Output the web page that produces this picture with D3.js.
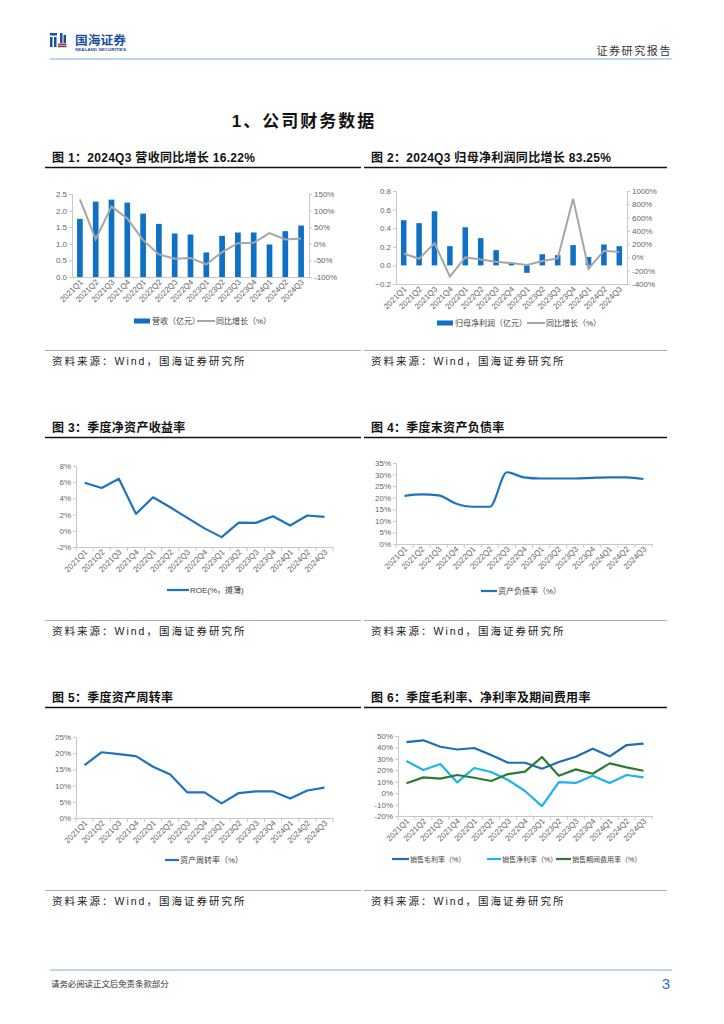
<!DOCTYPE html>
<html><head><meta charset="utf-8">
<script src="https://cdn.jsdelivr.net/npm/d3@7/dist/d3.min.js"></script>
<style>
html,body{margin:0;padding:0;background:#fff;}
svg{display:block;}
text{font-family:"Liberation Sans","Noto Sans CJK SC",sans-serif;}
</style></head>
<body>
<svg id="page" width="724" height="1024"></svg>
<script>
// ---------- DATA ----------
const quarters = ["2021Q1","2021Q2","2021Q3","2021Q4","2022Q1","2022Q2","2022Q3","2022Q4","2023Q1","2023Q2","2023Q3","2023Q4","2024Q1","2024Q2","2024Q3"];
const revenue = [1.75,2.27,2.33,2.24,1.91,1.60,1.31,1.28,0.74,1.24,1.34,1.34,0.98,1.38,1.55];
const revenueYoY = [134,14,112,76,11,-32,-45,-43,-62,-25,2,3,32,13,16.22];
const netProfit = [0.486,0.454,0.582,0.207,0.41,0.293,0.164,0.03,-0.08,0.12,0.11,0.218,0.09,0.225,0.207];
const netProfitYoY = [60,-20,215,-290,0,-30,-65,-85,-115,-55,-15,885,-170,100,83.25];
const roe = [5.94,5.29,6.43,2.09,4.14,2.9,1.6,0.3,-0.78,1.02,0.98,1.8,0.66,1.89,1.72];
const debtRatio = [20.8,21.4,21.0,17.5,16.1,16.1,31.0,28.8,28.3,28.3,28.3,28.6,28.8,28.8,28.1];
const assetTurnover = [16.3,20.3,19.7,19.1,15.8,13.4,7.9,7.9,4.5,7.7,8.2,8.2,6.0,8.5,9.4];
const grossMargin = [44.6,46.2,40.6,38.2,39.5,33.3,26.6,26.6,21.4,27.2,31.9,38.9,32.2,42.1,43.3];
const netMargin = [28.1,20.2,25.5,9.4,22,18.5,11.5,1.9,-11.3,9.7,8.9,15.3,8.9,15.9,13.8];
const expenseRatio = [8.6,13.8,12.7,15.9,13.5,10.6,16.7,18.8,31.6,15.3,20.8,17,26,22.6,19.6];

const ticksRevenue = [0,0.5,1.0,1.5,2.0,2.5];
const ticksRevenueYoY = [-100,-50,0,50,100,150];
const ticksProfit = [-0.2,0,0.2,0.4,0.6,0.8];
const ticksProfitYoY = [-400,-200,0,200,400,600,800,1000];
const ticksRoe = [-2,0,2,4,6,8];
const ticksDebt = [0,5,10,15,20,25,30,35];
const ticksTurnover = [0,5,10,15,20,25];
const ticksMargin = [-20,-10,0,10,20,30,40,50];

const figTitles = ["图 1：2024Q3 营收同比增长 16.22%","图 2：2024Q3 归母净利润同比增长 83.25%","图 3：季度净资产收益率","图 4：季度末资产负债率","图 5：季度资产周转率","图 6：季度毛利率、净利率及期间费用率"];
const sourceText = "资料来源：Wind，国海证券研究所";

// ---------- STYLE ----------
const BLUE = "#0E71C6", GRAY = "#A6A6A6", LINEBLUE = "#1D73BE";
const C_GROSS = "#1F6CB3", C_NET = "#1DB3EC", C_EXP = "#2F7A33";
const AXIS = "#C8C8C8", TICKTXT = "#666666";

const svg = d3.select("#page");

// ---------- HEADER ----------
const logo = svg.append("g");
logo.append("rect").attr("x",50).attr("y",33).attr("width",7).attr("height",2.5).attr("fill","#1D4FA0");
logo.append("rect").attr("x",50).attr("y",37).attr("width",2.5).attr("height",10).attr("fill","#1D4FA0");
logo.append("rect").attr("x",54).attr("y",37).attr("width",2.5).attr("height",10).attr("fill","#1D4FA0");
logo.append("rect").attr("x",60).attr("y",33).attr("width",2.5).attr("height",10).attr("fill","#1D4FA0");
logo.append("rect").attr("x",63.5).attr("y",35).attr("width",2.5).attr("height",8).attr("fill","#1D4FA0");
logo.append("rect").attr("x",58).attr("y",43.5).attr("width",8.5).attr("height",2).attr("fill","#D7262B");
logo.append("rect").attr("x",58).attr("y",46).attr("width",8.5).attr("height",1.2).attr("fill","#1D4FA0");
logo.append("text").attr("x",75).attr("y",45).attr("font-size",12).attr("font-weight","bold")
  .attr("fill","#1D4FA0").attr("textLength",51).attr("lengthAdjust","spacingAndGlyphs")
  .style("font-family","'Noto Sans CJK SC'").text("国海证券");
logo.append("text").attr("x",75).attr("y",50.5).attr("font-size",4).attr("font-weight","bold")
  .attr("fill","#1D4FA0").attr("textLength",51).attr("lengthAdjust","spacingAndGlyphs").text("SEALAND SECURITIES");

svg.append("text").attr("x",672).attr("y",55).attr("text-anchor","end").attr("font-size",11)
  .attr("letter-spacing",1.6).attr("fill","#333").style("font-family","'Noto Sans CJK SC'").text("证券研究报告");
svg.append("line").attr("x1",50).attr("x2",672).attr("y1",59).attr("y2",59).attr("stroke","#A9C8EC").attr("stroke-width",1.5);

svg.append("text").attr("x",304).attr("y",127).attr("text-anchor","middle").attr("font-size",17)
  .attr("font-weight","bold").attr("letter-spacing",2).attr("fill","#111").text("1、公司财务数据");

// footer
svg.append("line").attr("x1",50).attr("x2",672).attr("y1",970).attr("y2",970).attr("stroke","#A9C8EC").attr("stroke-width",1.5);
svg.append("text").attr("x",51).attr("y",987).attr("font-size",8.5).attr("letter-spacing",-0.1).attr("fill","#333")
  .style("font-family","'Noto Sans CJK SC'").text("请务必阅读正文后免责条款部分");
svg.append("text").attr("x",670).attr("y",989).attr("text-anchor","end").attr("font-size",15).attr("fill","#2C6FD1").text("3");

// ---------- PANELS ----------
function panelFrame(side,row,title){
  const x0 = side===0 ? 45 : 364, x1 = side===0 ? 361 : 667;
  const off = row*270;
  svg.append("text").attr("x", side===0?52:371).attr("y",162+off).attr("font-size",12).attr("font-weight","bold")
    .attr("letter-spacing",0.3).attr("fill","#111").text(title);
  svg.append("line").attr("x1",x0).attr("x2",x1).attr("y1",167.5+off).attr("y2",167.5+off).attr("stroke","#111").attr("stroke-width",1.3);
  svg.append("line").attr("x1",x0).attr("x2",x1).attr("y1",350.5+off).attr("y2",350.5+off).attr("stroke","#777").attr("stroke-width",0.6);
  svg.append("text").attr("x", side===0?52:371).attr("y",365+off).attr("font-size",10.5).attr("letter-spacing",2)
    .attr("fill","#222").text(sourceText);
}

function xAxisRotated(g, x, y, boundaryTicks){
  const ax = g.append("g").attr("transform",`translate(0,${y})`)
    .call(d3.axisBottom(x).tickSize(0).tickPadding(4));
  ax.select(".domain").attr("stroke",AXIS);
  ax.selectAll("text").attr("font-size",8).attr("fill",TICKTXT)
    .attr("text-anchor","end").attr("dx","-0.2em").attr("dy","0.3em")
    .attr("transform","rotate(-45)");
  if(boundaryTicks){
    const edges = quarters.map(q=>x(q)).concat([x(quarters[quarters.length-1])+x.step()]);
    g.append("g").selectAll("line").data(edges).join("line")
      .attr("x1",d=>d).attr("x2",d=>d).attr("y1",y).attr("y2",y+4).attr("stroke",AXIS);
  }
}
function yAxisLeft(g, y, x0, ticks, fmt){
  const ax = g.append("g").attr("transform",`translate(${x0},0)`)
    .call(d3.axisLeft(y).tickValues(ticks).tickFormat(fmt).tickSize(3).tickPadding(2));
  ax.select(".domain").attr("stroke",AXIS);
  ax.selectAll(".tick line").attr("stroke",AXIS);
  ax.selectAll("text").attr("font-size",8).attr("fill",TICKTXT);
}
function yAxisRight(g, y, x0, ticks, fmt){
  const ax = g.append("g").attr("transform",`translate(${x0},0)`)
    .call(d3.axisRight(y).tickValues(ticks).tickFormat(fmt).tickSize(3).tickPadding(2));
  ax.select(".domain").attr("stroke",AXIS);
  ax.selectAll(".tick line").attr("stroke",AXIS);
  ax.selectAll("text").attr("font-size",8).attr("fill",TICKTXT);
}
function legendLine(g, x, y, w, color, label, sw, fs){
  g.append("line").attr("x1",x).attr("x2",x+w).attr("y1",y).attr("y2",y).attr("stroke",color).attr("stroke-width",sw||2.2);
  g.append("text").attr("x",x+w+1).attr("y",y+3).attr("font-size",fs||8).attr("fill","#404040").text(label);
}
function legendRect(g, x, y, w, color, label){
  g.append("rect").attr("x",x).attr("y",y-2.5).attr("width",w).attr("height",5).attr("fill",color);
  g.append("text").attr("x",x+w+2).attr("y",y+3).attr("font-size",8).attr("fill","#404040").text(label);
}

// Bar + line combo chart
function comboChart(opt){
  const g = svg.append("g");
  const x = d3.scaleBand().domain(quarters).range([opt.left,opt.right]).paddingInner(0.64).paddingOuter(0.32);
  const xb = d3.scaleBand().domain(quarters).range([opt.left,opt.right]);
  const yL = d3.scaleLinear().domain(opt.leftDomain).range([opt.bottom,opt.top]);
  const yR = d3.scaleLinear().domain(opt.rightDomain).range([opt.bottom,opt.top]);
  yAxisLeft(g,yL,opt.left,opt.leftTicks,opt.leftFmt);
  yAxisRight(g,yR,opt.right,opt.rightTicks,opt.rightFmt);
  g.append("g").selectAll("rect").data(opt.bars).join("rect")
    .attr("x",(d,i)=>x(quarters[i])).attr("width",x.bandwidth())
    .attr("y",d=>yL(Math.max(0,d))).attr("height",d=>Math.abs(yL(d)-yL(0)))
    .attr("fill",BLUE);
  xAxisRotated(g, xb, opt.bottom, false);
  const line = d3.line().x((d,i)=>xb(quarters[i])+xb.bandwidth()/2).y(d=>yR(d));
  g.append("path").datum(opt.line).attr("d",line).attr("fill","none").attr("stroke",GRAY).attr("stroke-width",2);
  legendRect(g,opt.legX1,opt.legY,16,BLUE,opt.barLabel);
  legendLine(g,opt.legX2,opt.legY,18,GRAY,opt.lineLabel,2);
}

function lineChart(opt){
  const g = svg.append("g");
  const x = d3.scaleBand().domain(quarters).range([opt.left,opt.right]);
  const y = d3.scaleLinear().domain(opt.domain).range([opt.bottom,opt.top]);
  yAxisLeft(g,y,opt.left,opt.ticks,d=>d+"%");
  xAxisRotated(g,x,opt.bottom,true);
  opt.series.forEach(s=>{
    const line = d3.line().x((d,i)=>x(quarters[i])+x.bandwidth()/2).y(d=>y(d)).curve(opt.curve||d3.curveLinear);
    g.append("path").datum(s.values).attr("d",line).attr("fill","none").attr("stroke",s.color).attr("stroke-width",2.2)
      .attr("stroke-linejoin","round");
    legendLine(g,s.legX,opt.legY,s.legW||18,s.color,s.label,2.2,opt.legFont);
  });
}

panelFrame(0,0,figTitles[0]);
panelFrame(1,0,figTitles[1]);
panelFrame(0,1,figTitles[2]);
panelFrame(1,1,figTitles[3]);
panelFrame(0,2,figTitles[4]);
panelFrame(1,2,figTitles[5]);

comboChart({left:72,right:309,top:194,bottom:277,leftDomain:[0,2.5],rightDomain:[-100,150],
  leftTicks:ticksRevenue,rightTicks:ticksRevenueYoY,leftFmt:d3.format(".1f"),rightFmt:d=>d+"%",
  bars:revenue,line:revenueYoY,barLabel:"营收（亿元）",lineLabel:"同比增长（%）",legX1:134,legX2:197,legY:321});

comboChart({left:396,right:627,top:191,bottom:284,leftDomain:[-0.2,0.8],rightDomain:[-400,1000],
  leftTicks:ticksProfit,rightTicks:ticksProfitYoY,leftFmt:d3.format(".1f"),rightFmt:d=>d+"%",
  bars:netProfit,line:netProfitYoY,barLabel:"归母净利润（亿元）",lineLabel:"同比增长（%）",legX1:437,legX2:527,legY:323});

lineChart({left:76,right:333,top:466,bottom:547,domain:[-2,8],ticks:ticksRoe,legY:590,
  series:[{values:roe,color:LINEBLUE,label:"ROE(%，摊薄)",legX:167,legW:22}]});

lineChart({left:396,right:652,top:463,bottom:544,domain:[0,35],ticks:ticksDebt,legY:591,curve:d3.curveMonotoneX,
  series:[{values:debtRatio,color:LINEBLUE,label:"资产负债率（%）",legX:481,legW:16}]});

lineChart({left:76,right:333,top:737,bottom:818,domain:[0,25],ticks:ticksTurnover,legY:860,
  series:[{values:assetTurnover,color:LINEBLUE,label:"资产周转率（%）",legX:165,legW:14}]});

lineChart({left:398,right:652,top:736,bottom:816,domain:[-20,50],ticks:ticksMargin,legY:859,legFont:7,
  series:[{values:grossMargin,color:C_GROSS,label:"销售毛利率（%）",legX:392,legW:17},
          {values:netMargin,color:C_NET,label:"销售净利率（%）",legX:487,legW:14},
          {values:expenseRatio,color:C_EXP,label:"销售期间费用率（%）",legX:556,legW:15}]});
</script>
</body></html>
